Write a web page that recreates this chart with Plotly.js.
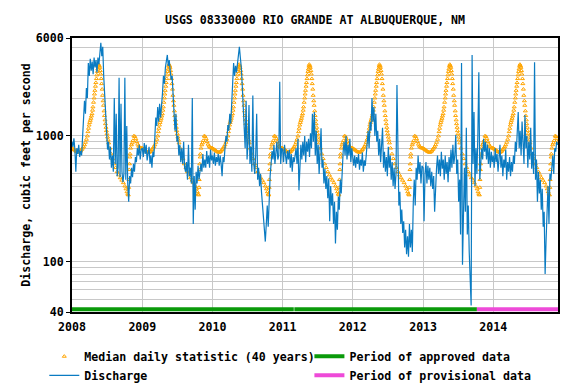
<!DOCTYPE html>
<html><head><meta charset="utf-8">
<script src="https://cdn.plot.ly/plotly-3.0.1.min.js"></script>
<style>html,body{margin:0;padding:0;background:#fff}#chart{width:576px;height:384px}</style>
</head><body><div id="chart"></div>
<script>
// ---- data ----
const years = [2008, 2009, 2010, 2011, 2012, 2013, 2014];
const yearLabels = ['2008', '2009', '2010', '2011', '2012', '2013', '2014'];

// Median daily statistic (40 years): day of year -> cfs (same every year)
const medianDoy = [1,6,11,16,21,26,31,36,41,46,51,56,61,66,71,76,81,84,87,90,93,96,99,102,105,108,110,113,116,118,120,123,125,128,130,133,135,138,140,143,145,148,150,153,155,158,160,163,165,168,170,173,175,178,180,183,186,189,192,198,205,212,220,228,236,244,252,260,268,276,282,287,291,294,296,297,299,300,302,303,306,310,314,318,323,328,333,338,343,348,353,358,363];
const medianCfs = [800,790,780,770,760,750,745,740,750,760,780,800,820,850,890,940,1000,1080,1150,1220,1280,1330,1380,1440,1500,1600,1700,1850,2000,2150,2300,2480,2650,2850,3050,3250,3400,3580,3700,3600,3500,3300,3100,2850,2600,2350,2100,1900,1750,1580,1450,1340,1250,1170,1100,1040,980,930,880,800,720,660,600,560,520,490,465,445,425,400,380,360,345,340,390,450,540,600,680,720,800,850,880,920,1000,990,950,900,860,830,815,805,800];

// Discharge, cfs, read every 5 days from Jan 1 of each year
const q2008 = [900,820,960,780,520,800,720,850,680,760,700,1000,1400,1900,1500,2400,2000,3800,3000,4100,3300,3900,3100,4200,3500,4000,3200,4200,3700,4900,5500,4300,5100,3000,2000,1300,1000,780,900,650,820,560,700,520,2000,600,1500,480,560,2900,470,1800,520,430,500,2900,450,1200,420,300,480,420,560,470,600,520,680,620,800,700,850,650,780];
const q2009 = [800,680,880,720,850,640,760,820,600,700,560,750,680,1100,1400,1200,1700,1300,1800,1400,1700,2200,3000,2600,3500,3800,4400,3600,4000,3300,2800,3000,2200,1700,1100,1500,900,1000,700,850,620,800,600,900,560,520,620,450,850,480,560,420,2000,200,480,260,520,420,580,450,520,600,520,720,560,650,560,760,600,700,560,780,640];
const q2010 = [700,600,740,580,680,620,720,580,700,600,480,680,620,800,1000,900,1220,1100,1500,1250,2000,3200,3800,3000,3600,3200,3900,4400,5100,4200,3500,2500,1600,1200,800,1900,650,900,1760,600,820,520,2100,600,500,720,1500,450,560,400,500,360,280,220,170,145,200,280,190,350,480,600,760,650,850,600,720,900,650,700,2700,600,800];
const q2011 = [780,620,850,700,600,760,650,780,560,720,520,680,620,700,800,600,950,370,560,850,650,900,700,1000,620,900,750,950,680,1050,800,1500,900,1550,700,1100,600,850,500,750,1150,560,650,420,550,380,480,320,460,210,400,280,350,200,300,140,250,180,330,260,450,350,560,750,900,700,1000,650,850,700,950,620,800];
const q2012 = [650,580,700,560,680,600,720,540,650,580,740,520,640,580,700,900,1100,800,1290,1100,2000,1300,1700,1000,1500,900,1100,700,950,620,800,1160,560,750,520,680,480,820,560,700,450,620,400,560,380,500,2540,420,280,360,200,260,170,210,130,180,115,160,110,200,130,180,120,300,450,280,560,450,700,500,620,420,580];
const q2013 = [560,210,500,620,420,580,450,560,400,520,380,480,250,450,560,700,500,650,480,750,550,650,450,700,500,620,430,680,520,780,560,850,600,700,1020,500,650,300,450,165,3800,95,300,560,250,1160,165,280,120,69,45,4400,600,1550,400,800,500,1020,3200,450,700,800,650,950,750,900,650,850,600,800,560,750,620];
const q2014 = [700,560,800,620,720,520,650,850,560,700,480,650,560,780,450,620,520,680,480,620,520,700,600,900,750,1300,1550,800,1100,700,1300,900,600,1470,800,1000,560,900,650,1160,550,750,500,3850,450,650,300,520,350,450,260,380,190,250,80,150,250,400,200,500,450,600,700,500,800,750,900,850];
const dischargeByYear = [q2008, q2009, q2010, q2011, q2012, q2013, q2014];
const sampleStepDays = 5;

// Data-approval periods (start, end) as dates
const approvedPeriods = [['2008-01-01', '2011-02-28'], ['2011-03-03', '2013-10-08']];
const provisionalPeriods = [['2013-10-08', '2014-12-04']];

const xStart = '2008-01-01';
const xEnd = '2014-12-04';
const yTickVals = [40, 100, 1000, 6000];
const yTickText = ['40', '100', '1000', '6000'];
const yMinorVals = [50, 60, 70, 80, 90, 200, 300, 400, 500, 600, 700, 800, 900, 2000, 3000, 4000, 5000];

// ---- build traces ----
const DAY = 86400000;
function dateFrom(year, dayOffset) {
  return new Date(Date.UTC(year, 0, 1) + dayOffset * DAY).toISOString().slice(0, 10);
}
const endMs = Date.parse(xEnd);

const medX = [], medY = [];
years.forEach(function (yr) {
  medianDoy.forEach(function (d, i) {
    const ds = dateFrom(yr, d - 1);
    if (Date.parse(ds) <= endMs) { medX.push(ds); medY.push(medianCfs[i]); }
  });
});

const qX = [], qY = [];
years.forEach(function (yr, k) {
  dischargeByYear[k].forEach(function (v, i) {
    qX.push(dateFrom(yr, i * sampleStepDays)); qY.push(v);
  });
});

function periodLine(periods) {
  const x = [], y = [];
  periods.forEach(function (p, i) {
    if (i > 0) { x.push(null); y.push(null); }
    x.push(p[0], p[1]); y.push(42, 42);
  });
  return { x: x, y: y };
}
const appr = periodLine(approvedPeriods);
const prov = periodLine(provisionalPeriods);

const FONT = { family: 'DejaVu Sans Mono, monospace', size: 11.6, color: '#000', weight: 'bold' };

const traces = [
  { type: 'scatter', mode: 'markers', name: 'Median daily statistic (40 years)', x: medX, y: medY,
    marker: { symbol: 'triangle-up-open', size: 3.5, color: '#ffa500', line: { width: 1, color: '#ffa500' } },
    legend: 'legend', hoverinfo: 'skip' },
  { type: 'scatter', mode: 'lines', name: 'Discharge', x: qX, y: qY,
    line: { color: '#0a7bc2', width: 1.2 }, legend: 'legend', hoverinfo: 'skip' },
  { type: 'scatter', mode: 'lines', name: 'Period of approved data', x: appr.x, y: appr.y,
    line: { color: '#0a9a0a', width: 4 }, legend: 'legend2', hoverinfo: 'skip', connectgaps: false },
  { type: 'scatter', mode: 'lines', name: 'Period of provisional data', x: prov.x, y: prov.y,
    line: { color: '#ee4ad8', width: 4 }, legend: 'legend2', hoverinfo: 'skip' }
];

const layout = {
  width: 576, height: 384,
  margin: { l: 72, r: 18, t: 38, b: 72, autoexpand: false },
  paper_bgcolor: '#fff', plot_bgcolor: '#fff',
  font: FONT,
  title: { text: 'USGS 08330000 RIO GRANDE AT ALBUQUERQUE, NM', font: FONT,
    x: 0.5469, xref: 'container', xanchor: 'center', y: 0.948, yref: 'container', yanchor: 'middle' },
  xaxis: {
    type: 'date', range: [xStart, xEnd],
    tickmode: 'array', tickvals: years.map(function (y) { return y + '-01-01'; }), ticktext: yearLabels,
    showgrid: true, gridcolor: '#c8c8c8', gridwidth: 1,
    showline: true, linecolor: '#000', linewidth: 2, mirror: true,
    ticks: 'outside', ticklen: 3, tickcolor: 'rgba(0,0,0,0)', tickfont: FONT, zeroline: false
  },
  yaxis: {
    type: 'log', range: [Math.log10(40), Math.log10(6000)],
    tickmode: 'array', tickvals: yTickVals, ticktext: yTickText,
    ticks: 'outside', ticklen: 4, tickcolor: '#000',
    showgrid: true, gridcolor: '#c8c8c8', gridwidth: 1,
    minor: { tickmode: 'array', tickvals: yMinorVals, showgrid: true, gridcolor: '#c8c8c8', gridwidth: 1, ticks: '' },
    showline: true, linecolor: '#000', linewidth: 2, mirror: true,
    tickfont: FONT, zeroline: false,
    title: { text: 'Discharge, cubic feet per second', font: FONT, standoff: 3 }
  },
  showlegend: true,
  legend: { orientation: 'v', x: -0.057, xanchor: 'left', y: -0.109, yanchor: 'top',
    font: FONT, bgcolor: 'rgba(0,0,0,0)', traceorder: 'normal', tracegroupgap: 0 },
  legend2: { orientation: 'v', x: 0.4885, xanchor: 'left', y: -0.109, yanchor: 'top',
    font: FONT, bgcolor: 'rgba(0,0,0,0)', traceorder: 'normal', tracegroupgap: 0 }
};

Plotly.newPlot('chart', traces, layout, { displayModeBar: false, staticPlot: true });
</script></body></html>
